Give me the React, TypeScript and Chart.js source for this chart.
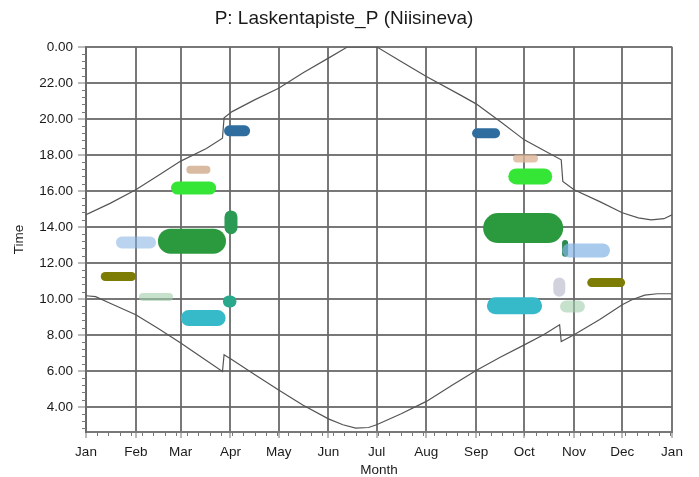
import React, { useEffect, useRef } from "react";
import { Chart, registerables } from "chart.js";

Chart.register(...registerables);

const chartTitle = "P: Laskentapiste_P (Niisineva)";
const monthLabels = ["Jan", "Feb", "Mar", "Apr", "May", "Jun", "Jul", "Aug", "Sep", "Oct", "Nov", "Dec", "Jan"];
const monthStartDays = [0, 31, 59, 90, 120, 151, 181, 212, 243, 273, 304, 334, 365];
const timeTicks = [4, 6, 8, 10, 12, 14, 16, 18, 20, 22, 24];

// sunset curve (day of year, hour)
const sunsetDays = [0, 15, 31, 45, 59, 75, 85, 86, 91, 105, 120, 135, 151, 163, 181, 196, 212, 233, 243, 258, 273, 285, 296, 297, 304, 320, 334, 344, 352, 360, 365];
const sunsetHours = [14.67, 15.3, 16.06, 16.85, 17.65, 18.35, 18.92, 20.05, 20.4, 21.05, 21.7, 22.55, 23.37, 24.0, 24.0, 23.2, 22.35, 21.33, 20.83, 19.85, 18.83, 18.25, 17.72, 16.52, 16.06, 15.4, 14.78, 14.5, 14.39, 14.45, 14.67];

// sunrise curve (day of year, hour)
const sunriseDays = [0, 6, 15, 31, 45, 59, 72, 85, 86, 91, 105, 120, 135, 151, 160, 168, 176, 181, 196, 212, 228, 243, 258, 273, 285, 295, 296, 304, 320, 334, 340, 348, 356, 365];
const sunriseHours = [10.17, 10.12, 9.75, 9.11, 8.35, 7.54, 6.75, 5.96, 6.89, 6.62, 5.8, 4.94, 4.1, 3.33, 3.0, 2.82, 2.85, 3.0, 3.6, 4.3, 5.2, 6.02, 6.75, 7.44, 8.0, 8.56, 7.63, 8.0, 8.85, 9.67, 9.95, 10.2, 10.28, 10.28];

// measurement clusters: start/end day and start/end hour
const blobStartDay = [89.4, 65, 57, 52.6, 90.3, 22.4, 12, 35.5, 64, 89, 243.6, 268.5, 268, 256.7, 301, 298.4, 315, 294.8, 255, 299];
const blobEndDay = [98.8, 75, 77, 79.4, 90.3, 39.9, 28.3, 51.7, 82, 90, 254.8, 279, 285.4, 287.9, 322, 298.4, 333, 294.8, 278.8, 307];
const blobStartHour = [19.33, 17.17, 16.15, 13.2, 14.55, 13.13, 11.24, 10.1, 8.93, 9.85, 19.2, 17.8, 16.8, 13.93, 12.68, 13.1, 10.9, 10.85, 9.61, 9.57];
const blobEndHour = [19.33, 17.17, 16.15, 13.2, 13.95, 13.13, 11.24, 10.1, 8.93, 9.85, 19.2, 17.8, 16.8, 13.93, 12.68, 12.5, 10.9, 10.45, 9.61, 9.57];

// styles
const blobColors = [
  "#2f6d9e", "rgba(210,175,145,0.85)", "#36e636", "#2b9a3e", "#2b9a55",
  "rgba(130,175,225,0.55)", "#7d7d05", "rgba(160,205,170,0.6)", "#36b9c9", "#2aa88c",
  "#2f6d9e", "rgba(220,180,150,0.8)", "#36e636", "#2b9a3e", "rgba(130,180,230,0.7)",
  "#2b8a50", "#7d7d05", "rgba(180,180,200,0.6)", "#36b9c9", "rgba(160,205,170,0.6)",
];
const blobThickness = [11, 8, 13, 25, 13, 12, 9, 8, 16, 12, 10, 8, 16, 30, 14, 6, 9, 12, 17, 12];

const FONT = "'Liberation Sans', Arial, sans-serif";
const TEXT = "#1a1a1a";
const GRID = "rgba(105,105,105,0.9)";

const minorTicks = {
  id: "minorTicks",
  afterDraw(chart: any) {
    const { ctx, scales, chartArea } = chart;
    const x = scales.x;
    const y = scales.y;
    ctx.save();
    ctx.strokeStyle = "#777";
    ctx.lineWidth = 1;
    ctx.beginPath();
    for (let d = 7; d < 365; d += 7) {
      const px = Math.round(x.getPixelForValue(d)) + 0.5;
      ctx.moveTo(px, chartArea.bottom);
      ctx.lineTo(px, chartArea.bottom + 4);
    }
    for (let k = 7; k < 60; k++) {
      if (k % 5 === 0) continue;
      const h = k * 0.4;
      if (h < y.min || h > y.max) continue;
      const py = Math.round(y.getPixelForValue(h)) + 0.5;
      ctx.moveTo(chartArea.left - 4, py);
      ctx.lineTo(chartArea.left, py);
    }
    ctx.stroke();
    ctx.restore();
  },
};

export default function App() {
  const ref = useRef<HTMLCanvasElement>(null);
  useEffect(() => {
    if (!ref.current) return;
    const blobSets = blobStartDay.map((_, i) => ({
      type: "line" as const,
      data: [
        { x: blobStartDay[i], y: blobStartHour[i] },
        { x: blobEndDay[i], y: blobEndHour[i] },
      ],
      borderColor: blobColors[i],
      borderWidth: blobThickness[i],
      borderCapStyle: "round" as const,
      pointRadius: 0,
      fill: false,
      order: 2,
    }));
    const chart = new Chart(ref.current, {
      type: "line",
      data: {
        datasets: [
          ...blobSets,
          {
            data: sunsetDays.map((d, i) => ({ x: d, y: sunsetHours[i] })),
            borderColor: "#555",
            borderWidth: 1.2,
            pointRadius: 0,
            fill: false,
            order: 1,
          },
          {
            data: sunriseDays.map((d, i) => ({ x: d, y: sunriseHours[i] })),
            borderColor: "#555",
            borderWidth: 1.2,
            pointRadius: 0,
            fill: false,
            order: 1,
          },
        ] as any,
      },
      options: {
        animation: false,
        responsive: false,
        layout: { padding: { left: 16, right: 27, top: 0, bottom: 0 } },
        plugins: {
          legend: { display: false },
          tooltip: { enabled: false },
          title: {
            display: true,
            text: chartTitle,
            color: TEXT,
            font: { family: FONT, size: 19, weight: "normal" },
            padding: { top: 7, bottom: 17 },
          },
        },
        scales: {
          x: {
            type: "linear",
            min: 0,
            max: 365,
            afterBuildTicks: (scale: any) => {
              scale.ticks = monthStartDays.map((v) => ({ value: v }));
            },
            afterFit: (scale: any) => {
              scale.height = 45;
            },
            ticks: {
              autoSkip: false,
              maxRotation: 0,
              padding: 6,
              color: TEXT,
              font: { family: FONT, size: 13.5 },
              callback: (_v: any, i: number) => monthLabels[i],
            },
            grid: { color: GRID, lineWidth: 2, tickLength: 6, tickColor: "#777", tickWidth: 1 },
            border: { color: GRID, width: 2 },
            title: {
              display: true,
              text: "Month",
              color: TEXT,
              font: { family: FONT, size: 13.5 },
              padding: { top: 0, bottom: -1 },
            },
          },
          y: {
            type: "linear",
            min: 2.6,
            max: 24,
            afterBuildTicks: (scale: any) => {
              scale.ticks = timeTicks.map((v) => ({ value: v }));
            },
            afterFit: (scale: any) => {
              scale.width = 70;
            },
            ticks: {
              padding: 5,
              color: TEXT,
              font: { family: FONT, size: 13.5 },
              callback: (v: any) => (Number(v) === 24 ? "0.00" : Number(v).toFixed(2)),
            },
            grid: { color: GRID, lineWidth: 2, tickLength: 8, tickColor: "#777", tickWidth: 1 },
            border: { color: GRID, width: 2 },
            title: {
              display: true,
              text: "Time",
              color: TEXT,
              font: { family: FONT, size: 13.5 },
              padding: { top: -5, bottom: 0 },
            },
          },
        },
      },
      plugins: [minorTicks],
    });
    return () => chart.destroy();
  }, []);
  return (
    <div style={{ position: "fixed", left: 0, top: 0, width: 699, height: 477, background: "#fff" }}>
      <canvas ref={ref} width={699} height={477} style={{ display: "block" }} />
    </div>
  );
}
